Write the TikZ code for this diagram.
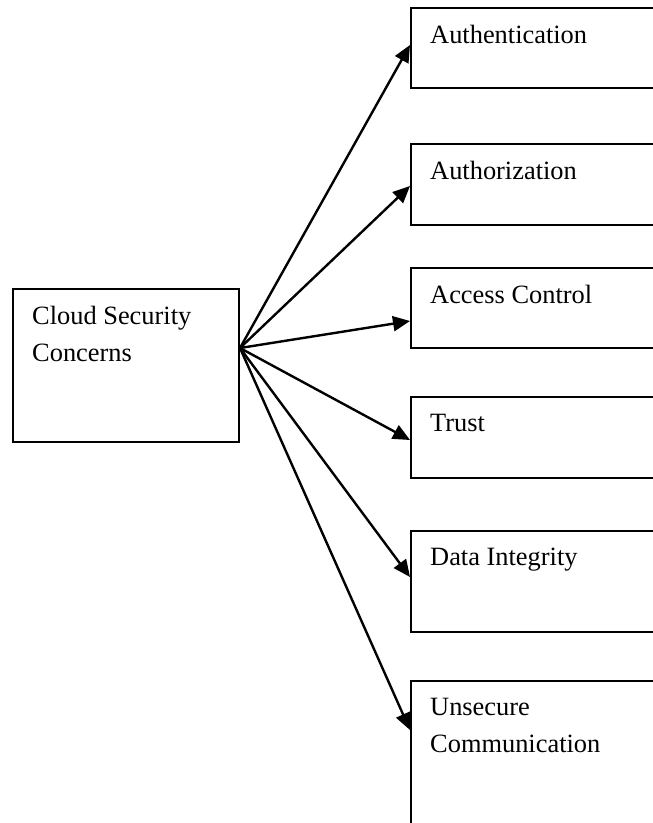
\documentclass[tikz,border=0pt]{standalone}
\usepackage{fontspec}
\setmainfont{Liberation Serif}
\usetikzlibrary{arrows.meta}

\tikzset{
  box/.style={draw, line width=2pt, anchor=north west, inner sep=0pt, minimum width=270pt},
  boxtext/.style={anchor=north west, inner xsep=20pt, inner ysep=18pt, align=left,
    font=\fontsize{26.4}{37}\selectfont},
  arr/.style={line width=2.4pt, -{Triangle[length=17pt,width=15pt]}}
}

\begin{document}
\begin{tikzpicture}[x=1pt,y=-1pt]
  \useasboundingbox (0,0) rectangle (653,823);
  \clip (0,0) rectangle (653,823);
  % left box
  \node[box, minimum width=226pt, minimum height=153pt,
        label={[boxtext]north west:{Cloud Security\\Concerns}}] (concerns) at (12,288) {};
  \coordinate (hub) at ([yshift=-60pt]concerns.north east);
  % right boxes
  \node[box, minimum height=80pt, label={[boxtext]north west:Authentication}] (authn) at (410,7) {};
  \node[box, minimum height=81pt, label={[boxtext]north west:Authorization}] (authz) at (410,143) {};
  \node[box, minimum height=80pt, label={[boxtext]north west:Access Control}] (access) at (410,267) {};
  \node[box, minimum height=81pt, label={[boxtext]north west:Trust}] (trust) at (410,396) {};
  \node[box, minimum height=101pt, label={[boxtext]north west:Data Integrity}] (integrity) at (410,530) {};
  \node[box, minimum height=180pt, label={[boxtext]north west:{Unsecure\\Communication}}] (unsecure) at (410,680) {};
  % arrows
  \path[arr]
    (hub) edge ([yshift=-38pt]authn.north west)
          edge ([yshift=-43pt]authz.north west)
          edge ([yshift=-54pt]access.north west)
          edge ([yshift=-44pt]trust.north west)
          edge ([yshift=-47pt]integrity.north west)
          edge ([yshift=-50pt]unsecure.north west);
\end{tikzpicture}
\end{document}
